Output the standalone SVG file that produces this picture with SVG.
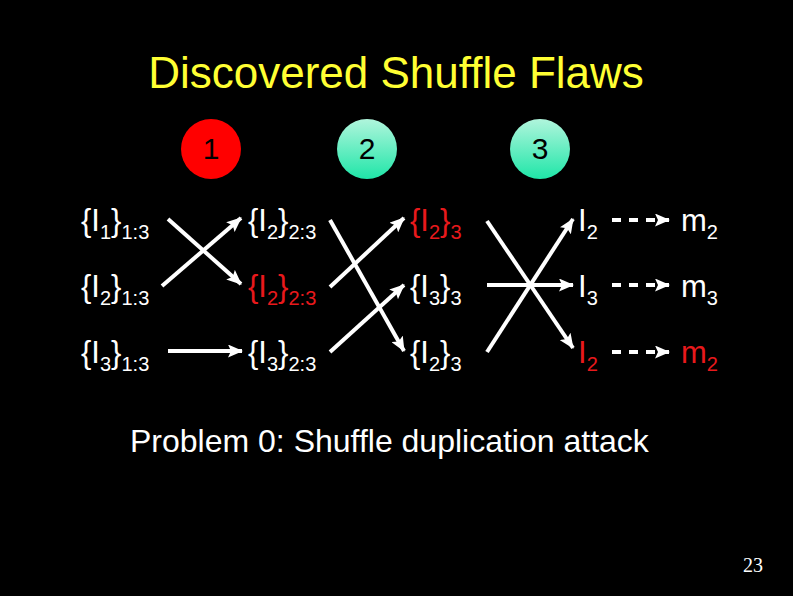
<svg xmlns="http://www.w3.org/2000/svg" width="793" height="596" viewBox="0 0 793 596">
<defs>
<linearGradient id="g" x1="0" y1="0" x2="0" y2="1">
<stop offset="0" stop-color="#b0f5dc"/>
<stop offset="1" stop-color="#1fe6a8"/>
</linearGradient>
<marker id="ah" markerUnits="userSpaceOnUse" markerWidth="15" markerHeight="13" refX="14" refY="6.5" orient="auto">
<path d="M0,0 L15,6.5 L0,13 L3,6.5 Z" fill="#fff"/>
</marker>
<style>
text{font-family:"Liberation Sans",Arial,sans-serif;}
.t{font-size:31px;fill:#fff;}
.r{fill:#e8191c;}
.s{font-size:20px;}
.ln{stroke:#fff;stroke-width:4;fill:none;}
.a{marker-end:url(#ah);}
.d{stroke-dasharray:9 8;}
.num{font-size:30px;fill:#000;text-anchor:middle;}
</style>
</defs>
<rect width="793" height="596" fill="#000"/>
<text x="396" y="88" font-size="44" fill="#ffff33" text-anchor="middle">Discovered Shuffle Flaws</text>

<g id="circle1"><circle cx="211" cy="149" r="30" fill="#ff0000"/><text class="num" x="211" y="159">1</text></g>
<g id="circle2"><circle cx="367" cy="149" r="30" fill="url(#g)"/><text class="num" x="367" y="159">2</text></g>
<g id="circle3"><circle cx="540" cy="149" r="30" fill="url(#g)"/><text class="num" x="540" y="159">3</text></g>

<g id="n11"><text class="t" x="81" y="231">{I<tspan class="s" dy="8">1</tspan><tspan dy="-8">}</tspan><tspan class="s" dy="8">1:3</tspan></text></g>
<g id="n12"><text class="t" x="81" y="297">{I<tspan class="s" dy="8">2</tspan><tspan dy="-8">}</tspan><tspan class="s" dy="8">1:3</tspan></text></g>
<g id="n13"><text class="t" x="81" y="363">{I<tspan class="s" dy="8">3</tspan><tspan dy="-8">}</tspan><tspan class="s" dy="8">1:3</tspan></text></g>

<g id="n21"><text class="t" x="248" y="231">{I<tspan class="s" dy="8">2</tspan><tspan dy="-8">}</tspan><tspan class="s" dy="8">2:3</tspan></text></g>
<g id="n22"><text class="t r" x="248" y="297">{I<tspan class="s" dy="8">2</tspan><tspan dy="-8">}</tspan><tspan class="s" dy="8">2:3</tspan></text></g>
<g id="n23"><text class="t" x="248" y="363">{I<tspan class="s" dy="8">3</tspan><tspan dy="-8">}</tspan><tspan class="s" dy="8">2:3</tspan></text></g>

<g id="n31"><text class="t r" x="410" y="231">{I<tspan class="s" dy="8">2</tspan><tspan dy="-8">}</tspan><tspan class="s" dy="8">3</tspan></text></g>
<g id="n32"><text class="t" x="410" y="297">{I<tspan class="s" dy="8">3</tspan><tspan dy="-8">}</tspan><tspan class="s" dy="8">3</tspan></text></g>
<g id="n33"><text class="t" x="410" y="363">{I<tspan class="s" dy="8">2</tspan><tspan dy="-8">}</tspan><tspan class="s" dy="8">3</tspan></text></g>

<g id="n41"><text class="t" x="578" y="231">I<tspan class="s" dy="8">2</tspan></text></g>
<g id="n42"><text class="t" x="578" y="297">I<tspan class="s" dy="8">3</tspan></text></g>
<g id="n43"><text class="t r" x="578" y="363">I<tspan class="s" dy="8">2</tspan></text></g>

<g id="n51"><text class="t" x="681" y="231">m<tspan class="s" dy="8">2</tspan></text></g>
<g id="n52"><text class="t" x="681" y="297">m<tspan class="s" dy="8">3</tspan></text></g>
<g id="n53"><text class="t r" x="681" y="363">m<tspan class="s" dy="8">2</tspan></text></g>

<g id="connectors">
<line class="ln a" x1="168" y1="219" x2="241" y2="284"/>
<line class="ln a" x1="162" y1="286" x2="241" y2="218"/>
<line class="ln a" x1="168" y1="351" x2="242" y2="351"/>
<line class="ln a" x1="330" y1="220" x2="404" y2="351"/>
<line class="ln a" x1="330" y1="287" x2="404" y2="218"/>
<line class="ln a" x1="330" y1="352" x2="404" y2="285"/>
<line class="ln a" x1="487" y1="221" x2="573" y2="348"/>
<line class="ln a" x1="487" y1="285" x2="573" y2="285"/>
<line class="ln a" x1="487" y1="352" x2="573" y2="219"/>
<line class="ln a d" x1="612" y1="220" x2="669" y2="220"/>
<line class="ln a d" x1="612" y1="285" x2="669" y2="285"/>
<line class="ln a d" x1="612" y1="352" x2="669" y2="352"/>
</g>

<text x="130" y="452" font-size="32" fill="#fff">Problem 0: Shuffle duplication attack</text>
<text x="753" y="572" font-size="20" fill="#fff" text-anchor="middle" style="font-family:'Liberation Serif','Times New Roman',serif">23</text>
</svg>
